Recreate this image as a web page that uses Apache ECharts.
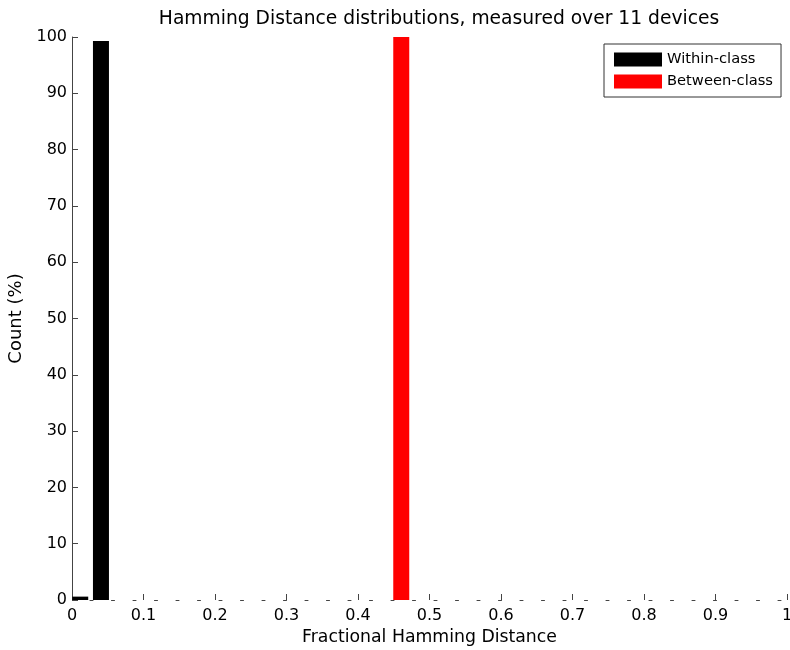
<!DOCTYPE html>
<html>
<head>
<meta charset="utf-8">
<script src="https://cdn.jsdelivr.net/npm/echarts@6/dist/echarts.min.js"></script>
<style>
  html, body { margin: 0; padding: 0; background: #fff; }
  #chart { width: 790px; height: 650px; }
</style>
</head>
<body>
<div id="chart"></div>
<script>
// bin centres (fractional HD) and counts (%)
var withinX = [0.0115, 0.0405];
var withinY = [0.6, 99.3];
var betweenX = [0.4605];
var betweenY = [100];
var xTicks = [0, 0.1, 0.2, 0.3, 0.4, 0.5, 0.6, 0.7, 0.8, 0.9, 1];
var yTicks = [0, 10, 20, 30, 40, 50, 60, 70, 80, 90, 100];

function pairs(xs, ys) {
    var out = [];
    for (var i = 0; i < xs.length; i++) {
        out.push([xs[i], ys[i]]);
    }
    return out;
}

var FONT = "DejaVu Sans, sans-serif";
var chart = echarts.init(document.getElementById("chart"));

var option = {
    animation: false,
    backgroundColor: "#fff",
    title: {
        text: "Hamming Distance distributions, measured over 11 devices",
        left: 434,
        textAlign: "center",
        top: 5,
        textStyle: {
            fontFamily: FONT,
            fontSize: 18.7,
            fontWeight: "normal",
            color: "#000"
        }
    },
    legend: {
        left: 604,
        top: 44,
        orient: "vertical",
        backgroundColor: "#fff",
        borderColor: "#333",
        borderWidth: 1,
        borderRadius: 0,
        padding: [8, 8, 8, 10],
        itemWidth: 48,
        itemHeight: 14,
        itemGap: 7,
        icon: "rect",
        textStyle: {
            fontFamily: FONT,
            fontSize: 14.7,
            color: "#000"
        },
        data: ["Within-class", "Between-class"]
    },
    grid: {
        left: 72,
        right: 3,
        top: 37,
        bottom: 50,
        containLabel: false,
        outerBoundsMode: "none"
    },
    xAxis: {
        type: "value",
        min: xTicks[0],
        max: xTicks[xTicks.length - 1],
        interval: 0.1,
        name: "Fractional Hamming Distance",
        nameLocation: "middle",
        nameGap: 27,
        nameTextStyle: { fontFamily: FONT, fontSize: 17.3, color: "#000" },
        axisLine: {
            show: true,
            lineStyle: { color: "#444", width: 1, type: [3, 18.5], dashOffset: 3.5 }
        },
        axisTick: { show: true, inside: true, length: 6, lineStyle: { color: "#444" } },
        axisLabel: {
            fontFamily: FONT,
            fontSize: 16,
            color: "#000",
            margin: 8,
            formatter: function (v) { return String(Math.round(v * 10) / 10); }
        },
        splitLine: { show: false }
    },
    yAxis: {
        type: "value",
        min: yTicks[0],
        max: yTicks[yTicks.length - 1],
        interval: 10,
        name: "Count (%)",
        nameLocation: "middle",
        nameGap: 40,
        nameRotate: 90,
        nameTextStyle: { fontFamily: FONT, fontSize: 18, color: "#000" },
        axisLine: { show: true, lineStyle: { color: "#444", width: 1 } },
        axisTick: { show: true, inside: true, length: 6, lineStyle: { color: "#444" } },
        axisLabel: {
            fontFamily: FONT,
            fontSize: 16,
            color: "#000",
            margin: 5
        },
        splitLine: { show: false }
    },
    series: [
        {
            name: "Within-class",
            type: "bar",
            barWidth: 16,
            barGap: "-100%",
            itemStyle: { color: "#000" },
            data: pairs(withinX, withinY)
        },
        {
            name: "Between-class",
            type: "bar",
            barWidth: 16,
            barGap: "-100%",
            itemStyle: { color: "#ff0000" },
            data: pairs(betweenX, betweenY)
        }
    ]
};

chart.setOption(option);
</script>
</body>
</html>
